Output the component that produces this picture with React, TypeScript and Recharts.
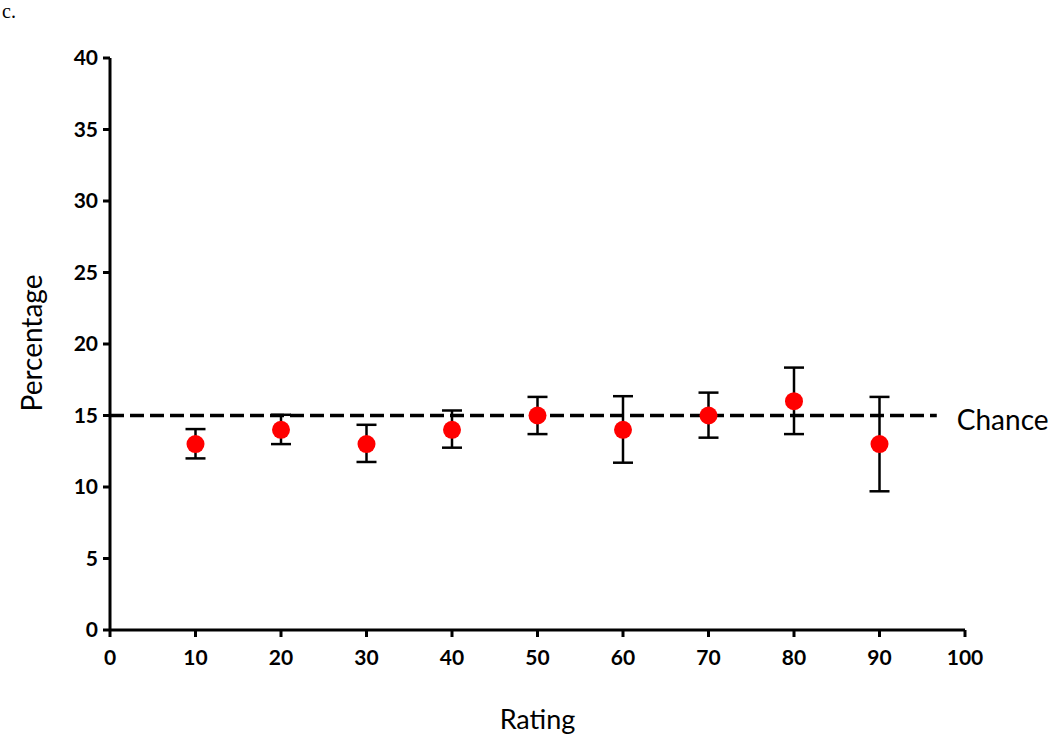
import { ScatterChart, Scatter, XAxis, YAxis, ErrorBar, ReferenceLine } from "recharts";

const ratings = [10, 20, 30, 40, 50, 60, 70, 80, 90];
const means = [13, 14, 13, 14, 15, 14, 15, 16, 13];
const upper = [14.05, 15.05, 14.35, 15.35, 16.3, 16.35, 16.6, 18.35, 16.3];
const lower = [12.0, 13.0, 11.75, 12.75, 13.7, 11.7, 13.45, 13.7, 9.7];
const xTicks = [0, 10, 20, 30, 40, 50, 60, 70, 80, 90, 100];
const yTicks = [0, 5, 10, 15, 20, 25, 30, 35, 40];
const chanceLevel = 15;
const chanceEnd = 96.7;

const data = ratings.map((r, i) => ({
  rating: r,
  pct: means[i],
  err: [means[i] - lower[i], upper[i] - means[i]],
}));

const tickStyle = { fill: "#000", fontSize: 21, fontWeight: 700, fontFamily: "Lato" };
const axisStroke = { stroke: "#000", strokeWidth: 3 };

export default function App() {
  return (
    <div style={{ position: "absolute", left: 0, top: 0, width: 1050, height: 739, background: "#fff" }}>
      <span style={{ position: "absolute", left: 2, top: 1, lineHeight: "20px", fontFamily: "Liberation Serif", fontSize: 20 }}>c.</span>
      <ScatterChart width={1050} height={739} margin={{ top: 58, right: 85, left: 0, bottom: 0 }}>
        <XAxis
          type="number"
          dataKey="rating"
          domain={[0, 100]}
          ticks={xTicks}
          height={109}
          tickSize={7}
          tickMargin={13}
          tick={tickStyle}
          axisLine={axisStroke}
          tickLine={axisStroke}
          label={({ viewBox }: any) => (
            <text x={viewBox.x + viewBox.width / 2} y={viewBox.y + 99} textAnchor="middle" fontFamily="Lato" fontSize={27} fill="#000">
              Rating
            </text>
          )}
        />
        <YAxis
          type="number"
          dataKey="pct"
          domain={[0, 40]}
          ticks={yTicks}
          width={110}
          tickSize={7}
          tickMargin={5}
          tick={tickStyle}
          axisLine={axisStroke}
          tickLine={axisStroke}
          label={({ viewBox }: any) => {
            const cx = viewBox.x + 42;
            const cy = viewBox.y + viewBox.height / 2 - 1;
            return (
              <text x={cx} y={cy} transform={`rotate(-90 ${cx} ${cy})`} textAnchor="middle" fontFamily="Lato" fontSize={28} fill="#000">
                Percentage
              </text>
            );
          }}
        />
        <Scatter
          data={data}
          isAnimationActive={false}
          shape={(p: any) => <circle cx={p.cx} cy={p.cy} r={9} fill="#ff0000" />}
        >
          <ErrorBar dataKey="err" direction="y" width={10} stroke="#000" strokeWidth={2.5} />
        </Scatter>
        <ReferenceLine
          segment={[{ x: 0, y: chanceLevel }, { x: chanceEnd, y: chanceLevel }]}
          stroke="#000"
          strokeWidth={3.5}
          strokeDasharray="14 6"
          label={{ value: "Chance", position: "right", offset: 20, dy: 5, fill: "#000", fontSize: 28, fontFamily: "Lato" }}
        />
      </ScatterChart>
    </div>
  );
}
